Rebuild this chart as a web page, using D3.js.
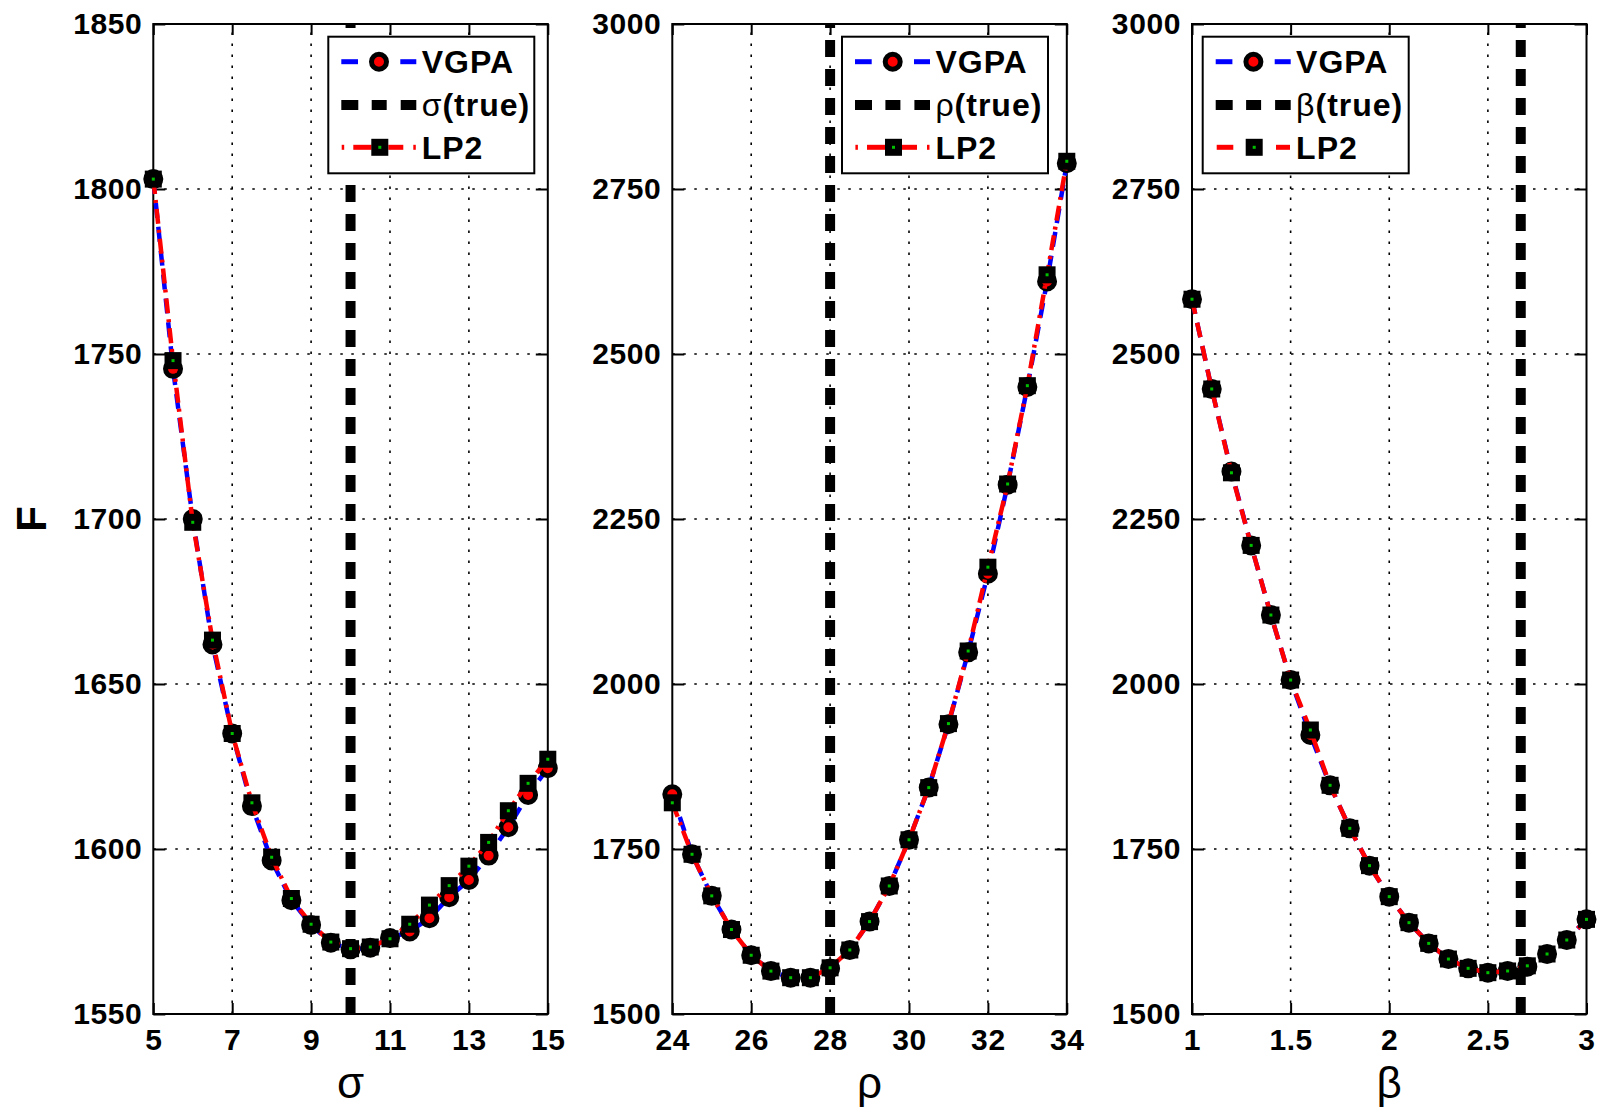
<!DOCTYPE html>
<html>
<head>
<meta charset="utf-8">
<script src="https://cdn.jsdelivr.net/npm/d3@7"></script>
<style>
  body { margin: 0; background: #fff; }
  svg { display: block; }
  text { font-family: "Liberation Sans", Arial, Helvetica, sans-serif; }
</style>
</head>
<body>
<svg id="fig" width="1598" height="1109"></svg>
<script>
// ---- parameter grids ----
const sigmaGrid = [5, 5.5, 6, 6.5, 7, 7.5, 8, 8.5, 9, 9.5, 10, 10.5, 11, 11.5, 12, 12.5, 13, 13.5, 14, 14.5, 15];
const rhoGrid   = [24, 24.5, 25, 25.5, 26, 26.5, 27, 27.5, 28, 28.5, 29, 29.5, 30, 30.5, 31, 31.5, 32, 32.5, 33, 33.5, 34];
const betaGrid  = [1, 1.1, 1.2, 1.3, 1.4, 1.5, 1.6, 1.7, 1.8, 1.9, 2, 2.1, 2.2, 2.3, 2.4, 2.5, 2.6, 2.7, 2.8, 2.9, 3];

// ---- objective F along each parameter ----
const vgpaSigma = [1803, 1745.5, 1700, 1662, 1635, 1613, 1596.5, 1584.5, 1577, 1571.6, 1569.6, 1570.1, 1573, 1575, 1579, 1585.4, 1590.6, 1598, 1606.6, 1616.4, 1624.5];
const lp2Sigma  = [1803, 1748, 1699, 1663.3, 1635, 1614, 1597.5, 1585, 1577.2, 1571.8, 1569.8, 1570.3, 1572.8, 1577.2, 1583, 1588.9, 1594.8, 1602, 1611.6, 1619.9, 1627.2];

const vgpaRho = [1833, 1742, 1679, 1628, 1589, 1565, 1555, 1555, 1569, 1597, 1640, 1694, 1764, 1843, 1939, 2048, 2167, 2302, 2450, 2610, 2789];
const lp2Rho  = [1820, 1742, 1679, 1628, 1589, 1565, 1555, 1555, 1570, 1597, 1640, 1694, 1764, 1843, 1940, 2050, 2177, 2303, 2452, 2620, 2792];

const vgpaBeta = [2583, 2447, 2322, 2210, 2104.5, 2006, 1922.7, 1846.5, 1781.3, 1724.8, 1677.8, 1638.4, 1607, 1583.3, 1569.2, 1562.6, 1565.2, 1571.7, 1590.9, 1612.1, 1643.4];
const lp2Beta  = [2583, 2447, 2320, 2210, 2104.5, 2006, 1930.3, 1846.5, 1781.3, 1724.8, 1677.8, 1638.4, 1607, 1583.3, 1569.2, 1562.6, 1565.2, 1573, 1590.9, 1612.1, 1643.4];

// ---- true parameter values ----
const sigmaTrue = 10;
const rhoTrue = 28;
const betaTrue = 8 / 3;

// ---- tick labels ----
const sigmaTicks = [5, 7, 9, 11, 13, 15];
const rhoTicks   = [24, 26, 28, 30, 32, 34];
const betaTicks  = [1, 1.5, 2, 2.5, 3];
const fTicksSigma = [1550, 1600, 1650, 1700, 1750, 1800, 1850];
const fTicksWide  = [1500, 1750, 2000, 2250, 2500, 2750, 3000];

const seriesNames = ["VGPA", "(true)", "LP2"];

// ---- layout ----
const plotTop = 24, plotBottom = 1014, plotW = 394.5;
const panels = [
  { sym: "σ", xs: sigmaGrid, vgpa: vgpaSigma, lp2: lp2Sigma, truth: sigmaTrue,
    xDomain: [5, 15], xTicks: sigmaTicks, yDomain: [1550, 1850], yTicks: fTicksSigma,
    left: 153.3, legendDx: 175, lp2Dash: "dashdot" },
  { sym: "ρ", xs: rhoGrid, vgpa: vgpaRho, lp2: lp2Rho, truth: rhoTrue,
    xDomain: [24, 34], xTicks: rhoTicks, yDomain: [1500, 3000], yTicks: fTicksWide,
    left: 672.3, legendDx: 169.7, lp2Dash: "dashdot" },
  { sym: "β", xs: betaGrid, vgpa: vgpaBeta, lp2: lp2Beta, truth: betaTrue,
    xDomain: [1, 3], xTicks: betaTicks, yDomain: [1500, 3000], yTicks: fTicksWide,
    left: 1192, legendDx: 10.7, lp2Dash: "dashed" }
];

const BLUE = "#0000ff", RED = "#ff0000", GREEN = "#00c000";
const DASHED = "15,9", DASHDOT = "15,6,3,6";

const svg = d3.select("#fig");

// y-axis title
svg.append("text")
  .attr("transform", `translate(46,519) rotate(-90)`)
  .attr("text-anchor", "middle")
  .attr("font-size", 42).attr("font-weight", "bold")
  .text("F");

function drawCircle(g, cx, cy) {
  g.append("circle").attr("cx", cx).attr("cy", cy).attr("r", 7.5)
    .attr("fill", RED).attr("stroke", "#000").attr("stroke-width", 5);
}
function drawSquare(g, cx, cy) {
  g.append("rect").attr("x", cx - 8.5).attr("y", cy - 8.5)
    .attr("width", 17).attr("height", 17).attr("fill", "#000");
  g.append("rect").attr("x", cx - 1.5).attr("y", cy - 1.5)
    .attr("width", 3).attr("height", 3).attr("fill", GREEN);
}

panels.forEach(p => {
  const x = d3.scaleLinear().domain(p.xDomain).range([p.left, p.left + plotW]);
  const y = d3.scaleLinear().domain(p.yDomain).range([plotBottom, plotTop]);
  const g = svg.append("g");

  // grid
  const grid = g.append("g").attr("stroke", "#000").attr("stroke-width", 1.6)
    .attr("stroke-dasharray", "2.5,8.5");
  p.xTicks.slice(1, -1).forEach(t => {
    grid.append("line").attr("x1", x(t)).attr("x2", x(t)).attr("y1", plotBottom).attr("y2", plotTop);
  });
  p.yTicks.slice(1, -1).forEach(t => {
    grid.append("line").attr("x1", p.left).attr("x2", p.left + plotW).attr("y1", y(t)).attr("y2", y(t));
  });

  // axes with inward ticks
  const fmt = d => String(d);
  const ax = g.append("g").attr("transform", `translate(0,${plotBottom})`)
    .call(d3.axisBottom(x).tickValues(p.xTicks).tickFormat(fmt).tickSize(-11).tickPadding(15));
  const ay = g.append("g").attr("transform", `translate(${p.left},0)`)
    .call(d3.axisLeft(y).tickValues(p.yTicks).tickFormat(fmt).tickSize(-12).tickPadding(11));
  const at = g.append("g").attr("transform", `translate(0,${plotTop})`)
    .call(d3.axisTop(x).tickValues(p.xTicks).tickFormat("").tickSize(-11));
  const ar = g.append("g").attr("transform", `translate(${p.left + plotW},0)`)
    .call(d3.axisRight(y).tickValues(p.yTicks).tickFormat("").tickSize(-12));
  [ax, ay, at, ar].forEach(a => {
    a.select(".domain").remove();
    a.selectAll(".tick line").attr("stroke", "#000").attr("stroke-width", 2);
    a.selectAll("text").attr("font-size", 30).attr("font-weight", "bold")
      .attr("letter-spacing", 0.6)
      .attr("font-family", "'Liberation Sans', Arial, sans-serif").attr("fill", "#000");
  });

  // box
  g.append("rect").attr("x", p.left).attr("y", plotTop).attr("width", plotW).attr("height", plotBottom - plotTop)
    .attr("fill", "none").attr("stroke", "#000").attr("stroke-width", 2);

  const pts = (vals) => p.xs.map((v, i) => [x(v), y(vals[i])]);
  const line = d3.line();

  // VGPA
  g.append("path").attr("d", line(pts(p.vgpa))).attr("fill", "none")
    .attr("stroke", BLUE).attr("stroke-width", 4.5).attr("stroke-dasharray", DASHED);
  const cg = g.append("g");
  pts(p.vgpa).forEach(([cx, cy]) => drawCircle(cg, cx, cy));

  // true value
  g.append("line").attr("x1", x(p.truth)).attr("x2", x(p.truth))
    .attr("y1", plotBottom).attr("y2", plotTop)
    .attr("stroke", "#000").attr("stroke-width", 10).attr("stroke-dasharray", "17,12");

  // LP2
  g.append("path").attr("d", line(pts(p.lp2))).attr("fill", "none")
    .attr("stroke", RED).attr("stroke-width", 4.5)
    .attr("stroke-dasharray", p.lp2Dash === "dashdot" ? DASHDOT : DASHED);
  const sg = g.append("g");
  pts(p.lp2).forEach(([cx, cy]) => drawSquare(sg, cx, cy));

  // x-axis title
  g.append("text").attr("x", p.left + plotW / 2).attr("y", 1098)
    .attr("text-anchor", "middle").attr("font-size", 44).text(p.sym);

  // legend
  const lx = p.left + p.legendDx, ly = 36.7;
  const lg = g.append("g").attr("transform", `translate(${lx},${ly})`);
  lg.append("rect").attr("x", 0).attr("y", 0).attr("width", 206).attr("height", 136.6)
    .attr("fill", "#fff").attr("stroke", "#000").attr("stroke-width", 2);
  const rows = [25, 68.3, 110.6];
  const seg = (x1, x2, yy, color, w) => lg.append("line").attr("x1", x1).attr("x2", x2)
    .attr("y1", yy).attr("y2", yy).attr("stroke", color).attr("stroke-width", w);
  // VGPA row
  seg(13, 29.7, rows[0], BLUE, 5);
  seg(72, 88, rows[0], BLUE, 5);
  drawCircle(lg, 50.7, rows[0]);
  // true row
  seg(13, 30, rows[1], "#000", 10);
  seg(43.4, 58.4, rows[1], "#000", 10);
  seg(72.4, 88, rows[1], "#000", 10);
  // LP2 row
  if (p.lp2Dash === "dashdot") {
    seg(13.4, 15.9, rows[2], RED, 5);
    seg(25, 43.3, rows[2], RED, 5);
    seg(60, 75, rows[2], RED, 5);
    seg(85, 87.5, rows[2], RED, 5);
  } else {
    seg(14, 30.6, rows[2], RED, 5);
    seg(73.3, 87.3, rows[2], RED, 5);
  }
  drawSquare(lg, 51.5, rows[2]);

  const tx = 93.4, fs = 32, ls = 1;
  lg.append("text").attr("x", tx).attr("y", rows[0] + 11.5).attr("font-size", fs)
    .attr("letter-spacing", ls).attr("font-weight", "bold").text(seriesNames[0]);
  const tt = lg.append("text").attr("x", tx).attr("y", rows[1] + 11.5).attr("font-size", fs)
    .attr("letter-spacing", ls);
  tt.append("tspan").attr("font-weight", "normal").text(p.sym);
  tt.append("tspan").attr("font-weight", "bold").text(seriesNames[1]);
  lg.append("text").attr("x", tx).attr("y", rows[2] + 11.5).attr("font-size", fs)
    .attr("letter-spacing", ls).attr("font-weight", "bold").text(seriesNames[2]);
});
</script>
</body>
</html>
